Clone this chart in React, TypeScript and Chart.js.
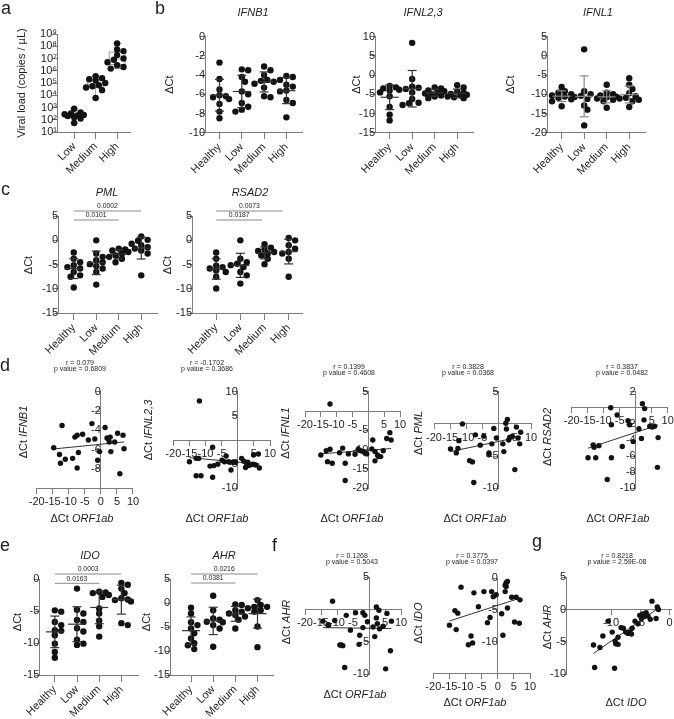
import React, { useEffect, useRef } from 'react';
import { Chart, registerables } from 'chart.js';

Chart.register(...registerables);

const W = 674;
const H = 719;
const FONT = '"Liberation Sans", Arial, Helvetica, sans-serif';
const AXIS_COLOR = '#7c7c7c';
const TEXT_COLOR = '#1e1e1e';
const DOT_COLOR = '#121212';

// ---------------- data ----------------
const groupLabels = ['Healthy', 'Low', 'Medium', 'High'];
const viralLabels = ['Low', 'Medium', 'High'];

const viralLoadLow = [790, 400, 320, 280, 250, 220, 200, 160, 125, 55];
const viralLoadMedium = [360000, 250000, 200000, 160000, 100000, 65000, 55000, 43000, 26000, 6000];
const viralLoadHigh = [170000000, 55000000, 40000000, 19000000, 10000000, 8000000, 5000000, 2800000, 2000000, 1500000];

const ifnb1ByGroup = [
  [-2.7, -4.4, -5.5, -6.1, -6.2, -6.3, -6.5, -7.0, -7.8, -8.5],
  [-3.4, -3.5, -4.2, -4.7, -5.7, -6.0, -6.9, -7.3, -7.6, -7.8],
  [-3.1, -3.5, -4.0, -4.5, -4.6, -4.7, -4.9, -5.3, -6.2, -6.3],
  [-4.1, -4.2, -4.5, -5.0, -5.2, -5.6, -5.7, -6.6, -6.9, -8.4],
];
const ifnl23ByGroup = [
  [-2.8, -3.2, -3.5, -3.8, -4.0, -4.5, -5.5, -8.3, -10.3, -11.8],
  [8.4, -1.0, -3.0, -3.3, -3.6, -4.5, -6.2, -7.2, -7.3, -7.8],
  [-3.2, -3.5, -4.0, -4.2, -4.5, -4.8, -5.0, -5.3, -5.6, -6.0],
  [-2.6, -3.2, -4.3, -4.6, -4.9, -5.1, -5.3, -5.6, -5.8, -6.0],
];
const ifnl1ByGroup = [
  [-8.1, -9.2, -9.6, -10.0, -10.3, -10.6, -10.9, -11.3, -11.8, -13.1],
  [1.7, -9.2, -10.0, -10.4, -10.7, -11.2, -12.9, -14.0, -18.1],
  [-7.5, -9.6, -10.0, -10.3, -10.6, -10.8, -11.1, -11.4, -11.8, -13.5],
  [-5.8, -7.5, -8.6, -9.7, -10.5, -10.9, -11.1, -11.4, -11.8, -13.3],
];
const pmlByGroup = [
  [-2.5, -3.8, -4.5, -5.1, -5.5, -5.8, -6.5, -7.2, -7.5, -9.7],
  [0.0, -2.7, -3.4, -4.1, -4.5, -4.9, -5.3, -5.8, -6.5, -9.1],
  [-1.7, -1.9, -2.1, -2.4, -2.7, -3.1, -3.4, -3.8, -4.5],
  [0.8, 0.1, -0.1, -0.7, -1.0, -1.4, -1.7, -2.1, -2.7, -7.2],
];
const rsad2ByGroup = [
  [-2.5, -3.8, -5.2, -5.5, -5.8, -6.2, -6.5, -7.5, -9.9],
  [0.0, -3.8, -4.5, -4.8, -5.1, -5.5, -6.5, -7.2, -8.9],
  [-0.8, -1.5, -1.9, -2.2, -2.4, -2.7, -3.1, -3.8, -4.9],
  [0.5, 0.0, -1.0, -1.7, -2.4, -2.7, -3.8, -7.5],
];
const idoByGroup = [
  [-4.9, -5.1, -6.7, -7.2, -8.0, -8.1, -8.8, -10.1, -11.4, -12.3],
  [-1.5, -4.8, -5.4, -6.4, -6.7, -7.7, -8.2, -9.5, -10.1, -10.3],
  [-2.0, -2.1, -2.2, -2.5, -2.8, -4.6, -5.4, -6.5, -7.4, -9.0],
  [-0.6, -0.9, -1.5, -2.2, -3.0, -3.2, -3.3, -3.5, -6.9, -7.2],
];
const ahrByGroup = [
  [-1.0, -2.2, -4.0, -4.6, -5.3, -6.3, -7.4, -8.4, -8.8, -9.6],
  [1.5, -1.5, -3.2, -3.5, -3.9, -4.0, -4.6, -5.3, -9.1],
  [-0.3, -0.4, -1.5, -1.8, -2.2, -2.5, -2.8, -3.5, -5.3],
  [0.6, -0.4, -0.8, -0.8, -1.1, -1.5, -1.8, -4.9, -9.2],
];

const orfVsIfnb1X = [-12.1, -14.7, -12.9, -12.6, -11.1, -8.8, -8.1, -7.4, -7.0, -7.4, -5.7, -3.9, -2.8, -1.9, -1.0, -0.4, 1.3, 1.9, 2.3, 2.6, 3.1, 2.9, 4.3, 5.2, 5.9, 6.9, 7.2];
const orfVsIfnb1Y = [-3.5, -5.8, -6.5, -7.4, -7.0, -6.9, -4.7, -4.5, -6.3, -7.9, -4.4, -5.0, -3.3, -4.9, -7.1, -6.2, -3.7, -4.8, -4.9, -5.2, -6.2, -4.7, -5.2, -4.3, -8.5, -4.5, -5.9];

const orfVsIfnl23X = [-11.9, -15.0, -12.9, -12.1, -12.9, -11.4, -7.8, -8.6, -7.8, -7.4, -6.2, -4.9, -3.6, -4.1, -2.8, -2.1, -1.6, -0.7, 1.2, 1.9, 2.4, 2.8, 3.1, 3.4, 4.1, 4.7, 5.2, 4.9, 6.4, 5.7, 6.7];
const orfVsIfnl23Y = [8.1, -4.5, -3.8, -3.8, -7.4, -7.4, -1.5, -5.4, -7.7, -5.3, -5.0, -4.2, -3.3, -4.5, -4.5, -6.2, -4.6, -4.6, -3.8, -4.4, -5.7, -5.2, -4.6, -5.3, -5.1, -5.0, -5.1, -3.1, -2.9, -5.2, -5.8];

const orfVsIfnl1X = [-15.0, -13.3, -12.1, -12.1, -12.9, -11.4, -9.1, -8.1, -7.3, -7.3, -6.3, -4.2, -3.2, -2.4, -1.6, -1.0, -0.5, 1.4, 1.1, 2.1, 2.1, 2.9, 3.2, 3.9, 4.7, 5.8, 6.8, 7.2];
const orfVsIfnl1Y = [-11.4, -10.3, -9.9, 1.8, -13.1, -13.5, -10.8, -9.6, -13.5, -18.0, -11.1, -11.2, -9.9, -10.3, -10.5, -10.9, -11.1, -7.5, -9.8, -10.5, -12.9, -11.4, -11.8, -11.8, -10.3, -7.1, -5.6, -7.5];

const orfVsPmlX = [-11.2, -14.9, -13.1, -12.6, -12.3, -9.0, -8.1, -7.7, -7.2, -5.7, -4.6, -3.0, -3.0, -2.1, -1.5, -0.7, 1.3, 1.6, 2.2, 2.4, 2.7, 3.1, 3.4, 4.2, 5.0, 5.5, 6.0, 6.8, 6.5];
const orfVsPmlY = [0.0, -3.9, -4.5, -3.8, -2.6, -5.7, -5.9, -9.1, -1.7, -3.3, -1.9, -4.5, -4.8, -3.1, -0.7, -2.2, -3.1, -4.3, 0.1, -0.8, 0.7, -2.5, -2.1, -1.9, -7.1, -0.5, -2.2, -1.3, -3.1];

const orfVsRsad2X = [-14.9, -13.3, -13.0, -11.5, -12.5, -7.8, -7.6, -7.6, -8.9, -5.8, -4.2, -2.4, -1.9, -0.8, 1.0, 2.1, 2.8, 2.6, 1.8, 4.4, 5.2, 5.9, 7.0, 6.8];
const orfVsRsad2Y = [-6.2, -4.6, -4.9, -4.7, -6.2, 0.0, -2.1, -6.2, -8.9, -0.9, -4.8, -1.6, -2.1, -4.2, -2.6, 0.5, -0.1, -1.5, -3.8, -2.3, -2.4, -2.3, -3.7, -7.4];

const orfVsAhrX = [-14.4, -12.8, -12.6, -10.7, -9.1, -11.4, -7.1, -4.2, -1.9, -1.3, -0.5, -2.9, -3.1, -8.6, -8.2, -7.6, -5.8, -1.9, 1.25, 2.3, 3.1, 2.3, 2.6, 1.8, 3.3, 4.4, 5.6, 7.0, 5.2, 6.7];
const orfVsAhrY = [-1.8, -2.4, -2.4, -1.7, -5.5, 1.3, -0.9, -0.5, -0.5, -0.9, -1.9, -4.0, -5.4, -5.5, -5.6, -9.0, -3.2, -2.8, -2.7, 0.4, -0.1, -1.3, -2.2, -4.2, -3.0, -2.6, -0.6, -1.8, -9.2, -6.4];

const orfVsIdoX = [-15.0, -13.3, -12.4, -12.9, -11.4, -9.1, -8.3, -7.8, -7.4, -6.0, -4.3, -3.2, -2.4, -1.9, -1.4, -0.5, 1.2, 1.6, 2.3, 2.6, 3.0, 2.3, 2.6, 3.0, 4.3, 5.7, 6.9, 5.2, 6.7];
const orfVsIdoY = [-7.4, -5.1, -5.5, -8.1, -1.4, -10.5, -9.1, -10.2, -2.3, -4.5, -2.1, -7.0, -6.2, -2.1, -2.9, -2.6, -5.6, -9.0, -1.1, -0.7, -0.5, -2.1, -1.3, -4.7, -3.0, -3.0, -3.4, -6.9, -7.1];

const idoVsAhrX = [-13.0, -12.8, -11.9, -11.4, -10.5, -9.8, -9.3, -9.2, -9.4, -8.8, -8.3, -7.9, -7.5, -7.1, -6.8, -6.5, -6.4, -5.9, -5.4, -5.1, -4.8, -4.6, -4.3, -4.0, -3.7, -3.3, -3.0, -2.1, -1.9, -2.3, -8.8];
const idoVsAhrY = [-5.5, -9.0, -5.9, -4.1, -1.8, -3.5, -4.9, -5.3, -9.1, -4.3, -2.8, -2.9, -3.5, -3.7, -3.5, -3.8, -2.9, -1.8, -2.2, -0.9, -1.4, -0.7, -1.1, -0.5, -1.0, -1.5, 1.3, 0.4, 0.0, -1.4, -5.4];

const viralTicks = [1e1, 1e2, 1e3, 1e4, 1e5, 1e6, 1e7, 1e8, 1e9];
const ticksIfnb1 = [-10, -8, -6, -4, -2, 0];
const ticksIfnl23 = [-15, -10, -5, 0, 5, 10];
const ticksIfnl1 = [-20, -15, -10, -5, 0, 5];
const ticksPml = [-15, -10, -5, 0, 5];
const ticksIdo = [-15, -10, -5, 0];
const ticksAhr = [-15, -10, -5, 0, 5];
const ticksOrf = [-20, -15, -10, -5, 0, 5, 10];
const ticksCorrIfnb1 = [-10, -8, -6, -4, -2, 0];
const ticksCorrIfnl23 = [-10, -5, 0, 5, 10];
const ticksCorrIfnl1 = [-20, -15, -10, -5, 0, 5];
const ticksCorrPml = [-10, -5, 0, 5];
const ticksCorrRsad2 = [-10, -8, -6, -4, -2, 0, 2];
const ticksCorrAhr = [-10, -5, 0, 5];
const ticksCorrIdo = [-15, -10, -5, 0];
const ticksIdoAxis = [-10, -5, 0];

const statsIfnb1 = ['r = 0.079', 'p value = 0.6809'];
const statsIfnl23 = ['r = -0.1702', 'p value = 0.3686'];
const statsIfnl1 = ['r = 0.1399', 'p value = 0.4608'];
const statsPml = ['r = 0.3828', 'p value = 0.0368'];
const statsRsad2 = ['r = 0.3837', 'p value = 0.0482'];
const statsAhr = ['r = 0.1268', 'p value = 0.5043'];
const statsIdo = ['r = 0.3775', 'p value = 0.0397'];
const statsIdoAhr = ['r = 0.8218', 'p value = 2.59E-08'];

const pPml = ['0.0002', '0.0101'];
const pRsad2 = ['0.0073', '0.0187'];
const pIdo = ['0.0003', '0.0163'];
const pAhr = ['0.0216', '0.0381'];

// ---------------- helpers ----------------
type Seg = [string, boolean?];
interface Txt { segs: Seg[]; x: number; y: number; size: number; rot?: number; align?: string; base?: string; }
interface Area { L: number; T: number; R: number; B: number; }

const tx = (x: number, y: number, size: number, segs: Seg[], extra: any = {}): Txt => ({ x, y, size, segs, ...extra });
const letter = (ch: string, x: number, y: number): Txt => tx(x, y, 18, [[ch]], { align: 'left', base: 'alphabetic' });

const mean = (a: number[]) => a.reduce((s, v) => s + v, 0) / a.length;
const sd = (a: number[]) => {
  const m = mean(a);
  return Math.sqrt(a.reduce((s, v) => s + (v - m) * (v - m), 0) / (a.length - 1));
};
const quantile = (sorted: number[], q: number) => {
  const pos = (sorted.length - 1) * q;
  const lo = Math.floor(pos);
  const hi = Math.ceil(pos);
  return sorted[lo] + (sorted[hi] - sorted[lo]) * (pos - lo);
};

function drawText(ctx: CanvasRenderingContext2D, t: Txt) {
  ctx.save();
  ctx.translate(t.x, t.y);
  if (t.rot) ctx.rotate((t.rot * Math.PI) / 180);
  ctx.fillStyle = TEXT_COLOR;
  ctx.textBaseline = (t.base || 'middle') as CanvasTextBaseline;
  ctx.textAlign = 'left';
  const fonts = t.segs.map((s) => `${s[1] ? 'italic ' : ''}${t.size}px ${FONT}`);
  const widths = t.segs.map((s, i) => {
    ctx.font = fonts[i];
    return ctx.measureText(s[0]).width;
  });
  const total = widths.reduce((a, b) => a + b, 0);
  let cx = t.align === 'left' ? 0 : t.align === 'right' ? -total : -total / 2;
  t.segs.forEach((s, i) => {
    ctx.font = fonts[i];
    ctx.fillText(s[0], cx, 0);
    cx += widths[i];
  });
  ctx.restore();
}

function seg(ctx: CanvasRenderingContext2D, x1: number, y1: number, x2: number, y2: number) {
  ctx.beginPath();
  ctx.moveTo(x1, y1);
  ctx.lineTo(x2, y2);
  ctx.stroke();
}

interface Bracket { from: number; to: number; y: number; label: string; }
interface Decor { groups?: number[][]; mode?: 'sd' | 'box'; barColor?: string; brackets?: Bracket[]; texts: Txt[]; }

function decorPlugin(d: Decor) {
  return {
    id: 'decor',
    beforeDatasetsDraw(chart: any) {
      if (d.mode !== 'box' || !d.groups) return;
      const { ctx } = chart;
      const xs = chart.scales.x;
      const ys = chart.scales.y;
      ctx.save();
      ctx.strokeStyle = '#9a9a9a';
      ctx.lineWidth = 1;
      d.groups.forEach((g, i) => {
        const logs = g.map((v) => Math.log10(v)).sort((a, b) => a - b);
        const cx = xs.getPixelForValue(i + 1);
        const p1 = ys.getPixelForValue(10 ** quantile(logs, 0.25));
        const p2 = ys.getPixelForValue(10 ** quantile(logs, 0.5));
        const p3 = ys.getPixelForValue(10 ** quantile(logs, 0.75));
        const pl = ys.getPixelForValue(10 ** logs[0]);
        const ph = ys.getPixelForValue(10 ** logs[logs.length - 1]);
        ctx.strokeRect(cx - 8, p3, 16, p1 - p3);
        seg(ctx, cx - 8, p2, cx + 8, p2);
        seg(ctx, cx, p3, cx, ph);
        seg(ctx, cx, p1, cx, pl);
        seg(ctx, cx - 4, ph, cx + 4, ph);
        seg(ctx, cx - 4, pl, cx + 4, pl);
      });
      ctx.restore();
    },
    afterDatasetsDraw(chart: any) {
      const { ctx } = chart;
      const xs = chart.scales.x;
      const ys = chart.scales.y;
      if (d.mode === 'sd' && d.groups) {
        ctx.save();
        ctx.strokeStyle = d.barColor || '#333';
        ctx.lineWidth = 1.2;
        d.groups.forEach((g, i) => {
          const m = mean(g);
          const s = sd(g);
          const cx = xs.getPixelForValue(i + 1);
          const pm = ys.getPixelForValue(m);
          const pt = ys.getPixelForValue(m + s);
          const pb = ys.getPixelForValue(m - s);
          seg(ctx, cx - 9, pm, cx + 9, pm);
          seg(ctx, cx, pt, cx, pb);
          seg(ctx, cx - 4.5, pt, cx + 4.5, pt);
          seg(ctx, cx - 4.5, pb, cx + 4.5, pb);
        });
        ctx.restore();
      }
      (d.brackets || []).forEach((b) => {
        const x1 = xs.getPixelForValue(b.from);
        const x2 = xs.getPixelForValue(b.to);
        ctx.save();
        ctx.strokeStyle = '#8a8a8a';
        ctx.lineWidth = 1;
        seg(ctx, x1, b.y, x2, b.y);
        ctx.restore();
        drawText(ctx, tx((x1 + x2) / 2, b.y - 4.5, 6.8, [[b.label]]));
      });
    },
    afterDraw(chart: any) {
      d.texts.forEach((t) => drawText(chart.ctx, t));
    },
  };
}

function makeScale(o: any) {
  return {
    type: o.log ? 'logarithmic' : 'linear',
    min: o.min,
    max: o.max,
    position: o.pos,
    afterBuildTicks: (sc: any) => {
      sc.ticks = o.ticks.map((v: number) => ({ value: v }));
    },
    afterFit: (sc: any) => {
      sc.paddingLeft = 0;
      sc.paddingRight = 0;
      sc.paddingTop = 0;
      sc.paddingBottom = 0;
    },
    ticks: {
      autoSkip: false,
      includeBounds: false,
      minRotation: o.rot || 0,
      maxRotation: o.rot || 0,
      padding: 2,
      color: TEXT_COLOR,
      font: { family: FONT, size: 11 },
      callback: (v: number) => (o.hide && o.hide.includes(v) ? '' : o.labels ? o.labels(v) : String(v)),
    },
    grid: { display: true, drawOnChartArea: false, drawTicks: true, tickLength: o.tickLen, color: AXIS_COLOR, lineWidth: 1 },
    border: { display: true, color: AXIS_COLOR, width: 1 },
  };
}

function baseOptions(a: Area, scales: any) {
  return {
    responsive: false,
    animation: false,
    events: [],
    layout: { padding: { left: a.L, top: a.T, right: W - a.R, bottom: H - a.B } },
    plugins: { legend: { display: false }, tooltip: { enabled: false }, title: { display: false } },
    scales,
  };
}

// compact beeswarm: horizontal offsets (px) for dots of one group
function swarm(vals: number[], toPx: (v: number) => number, d: number): number[] {
  const order = vals.map((_, i) => i).sort((a, b) => vals[b] - vals[a]);
  const placed: { x: number; y: number }[] = [];
  const out = new Array(vals.length).fill(0);
  const step = d * 0.5;
  const cands = [0, 1, -1, 2, -2, 3, -3];
  const minD2 = (d * 0.8) ** 2;
  for (const i of order) {
    const y = toPx(vals[i]);
    let best = 0;
    let bestScore = -1;
    for (const c of cands) {
      const x = c * step;
      const score = placed.length ? Math.min(...placed.map((p) => (p.x - x) ** 2 + (p.y - y) ** 2)) : Infinity;
      if (score >= minD2) { best = x; bestScore = score; break; }
      if (score > bestScore) { bestScore = score; best = x; }
    }
    out[i] = best;
    placed.push({ x: best, y });
  }
  return out;
}

interface DotSpec {
  area: Area; cats: string[]; groups: number[][]; xMin: number; xMax: number; yMin: number; yMax: number;
  yTicks: number[]; log?: boolean; yLabels?: (v: number) => string; brackets?: Bracket[]; texts: Txt[]; barColor?: string;
}

function dotConfig(s: DotSpec) {
  const { L, T, R, B } = s.area;
  const pxX = (R - L) / (s.xMax - s.xMin);
  const toPx = s.log
    ? (v: number) => (Math.log10(v) * (B - T)) / (Math.log10(s.yMax) - Math.log10(s.yMin))
    : (v: number) => (v * (B - T)) / (s.yMax - s.yMin);
  const radius = 3.2;
  const pts: { x: number; y: number }[] = [];
  s.groups.forEach((g, gi) => {
    const offs = swarm(g, toPx, radius * 2);
    g.forEach((v, k) => pts.push({ x: gi + 1 + offs[k] / pxX, y: v }));
  });
  return {
    type: 'scatter',
    data: {
      datasets: [{ data: pts, pointRadius: radius, pointHoverRadius: radius, pointBackgroundColor: DOT_COLOR, pointBorderWidth: 0, clip: false }],
    },
    options: baseOptions(s.area, {
      x: makeScale({ min: s.xMin, max: s.xMax, ticks: s.groups.map((_, i) => i + 1), pos: { y: s.yMin }, labels: (v: number) => s.cats[v - 1], rot: 45, tickLen: 6 }),
      y: makeScale({ min: s.yMin, max: s.yMax, ticks: s.yTicks, pos: { x: s.xMin }, labels: s.yLabels, tickLen: 5, log: s.log }),
    }),
    plugins: [decorPlugin({ groups: s.groups, mode: s.log ? 'box' : 'sd', brackets: s.brackets, texts: s.texts, barColor: s.barColor })],
  };
}

interface ScatSpec {
  area: Area; x: number[]; y: number[]; xMin: number; xMax: number; yMin: number; yMax: number; xTicks: number[]; yTicks: number[];
  xAxisAt: number; yAxisAt: number; hideX: number[]; hideY: number[]; texts: Txt[];
}

function scatterConfig(s: ScatSpec) {
  const mx = mean(s.x);
  const my = mean(s.y);
  let sxy = 0;
  let sxx = 0;
  s.x.forEach((xv, i) => {
    sxy += (xv - mx) * (s.y[i] - my);
    sxx += (xv - mx) * (xv - mx);
  });
  const b = sxy / sxx;
  const a = my - b * mx;
  const x0 = Math.min(...s.x);
  const x1 = Math.max(...s.x);
  return {
    type: 'scatter',
    data: {
      datasets: [
        { data: s.x.map((xv, i) => ({ x: xv, y: s.y[i] })), pointRadius: 2.7, pointHoverRadius: 2.7, pointBackgroundColor: DOT_COLOR, pointBorderWidth: 0, clip: false },
        { data: [{ x: x0, y: a + b * x0 }, { x: x1, y: a + b * x1 }], showLine: true, pointRadius: 0, borderColor: '#333', borderWidth: 1, clip: false },
      ],
    },
    options: baseOptions(s.area, {
      x: makeScale({ min: s.xMin, max: s.xMax, ticks: s.xTicks, pos: { y: s.xAxisAt }, hide: s.hideX, tickLen: 5 }),
      y: makeScale({ min: s.yMin, max: s.yMax, ticks: s.yTicks, pos: { x: s.yAxisAt }, hide: s.hideY, tickLen: 5 }),
    }),
    plugins: [decorPlugin({ texts: s.texts })],
  };
}

const SUP = ['⁰', '¹', '²', '³', '⁴', '⁵', '⁶', '⁷', '⁸', '⁹'];
const powLabel = (v: number) => '10' + SUP[Math.round(Math.log10(v))];
const dct = (gene: string): Seg[] => [['ΔCt '], [gene, true]];
const statTexts = (st: string[], x: number, y: number): Txt[] => [tx(x, y, 7, [[st[0]]]), tx(x, y + 6.3, 7, [[st[1]]])];

// ---------------- panels ----------------
const configs: (() => any)[] = [
  // a
  () => dotConfig({
    area: { L: 57, T: 34, R: 130, B: 132 }, cats: viralLabels, groups: [viralLoadLow, viralLoadMedium, viralLoadHigh],
    xMin: 0.2, xMax: 3.6, yMin: 1e1, yMax: 1e9, yTicks: viralTicks, log: true, yLabels: powLabel,
    texts: [letter('a', 1, 14), tx(22, 83, 11, [['Viral load (copies / µL)']], { rot: -90 })],
  }),
  // b
  () => dotConfig({
    area: { L: 205, T: 36.7, R: 302, B: 132.7 }, cats: groupLabels, groups: ifnb1ByGroup,
    xMin: 0.35, xMax: 4.7, yMin: -10, yMax: 0, yTicks: ticksIfnb1,
    texts: [letter('b', 155, 14), tx(253, 13, 11, [['IFNB1', true]]), tx(170, 84.7, 11, [['ΔCt']], { rot: -90 })],
  }),
  () => dotConfig({
    area: { L: 375, T: 36.7, R: 473, B: 132.7 }, cats: groupLabels, groups: ifnl23ByGroup,
    xMin: 0.35, xMax: 4.7, yMin: -15, yMax: 10, yTicks: ticksIfnl23,
    texts: [tx(423, 13, 11, [['IFNL2,3', true]]), tx(357, 84.7, 11, [['ΔCt']], { rot: -90 })],
  }),
  () => dotConfig({
    area: { L: 547, T: 36.7, R: 645, B: 132.7 }, cats: groupLabels, groups: ifnl1ByGroup,
    xMin: 0.35, xMax: 4.7, yMin: -20, yMax: 5, yTicks: ticksIfnl1, barColor: '#888',
    texts: [tx(598, 13, 11, [['IFNL1', true]]), tx(511, 84.7, 11, [['ΔCt']], { rot: -90 })],
  }),
  // c
  () => dotConfig({
    area: { L: 58, T: 216, R: 157, B: 313.3 }, cats: groupLabels, groups: pmlByGroup,
    xMin: 0.3, xMax: 4.7, yMin: -15, yMax: 5, yTicks: ticksPml,
    brackets: [{ from: 1, to: 4, y: 211, label: pPml[0] }, { from: 1, to: 3, y: 220, label: pPml[1] }],
    texts: [letter('c', 1, 195), tx(107, 193, 11, [['PML', true]]), tx(29, 265, 11, [['ΔCt']], { rot: -90 })],
  }),
  () => dotConfig({
    area: { L: 192, T: 216, R: 302, B: 313.3 }, cats: groupLabels, groups: rsad2ByGroup,
    xMin: 0, xMax: 4.55, yMin: -15, yMax: 5, yTicks: ticksPml,
    brackets: [{ from: 1, to: 3.75, y: 211, label: pRsad2[0] }, { from: 1, to: 2.9, y: 220, label: pRsad2[1] }],
    texts: [tx(250, 193, 11, [['RSAD2', true]]), tx(168, 265, 11, [['ΔCt']], { rot: -90 })],
  }),
  // d
  () => scatterConfig({
    area: { L: 36.7, T: 391.7, R: 133, B: 488.3 }, x: orfVsIfnb1X, y: orfVsIfnb1Y,
    xMin: -20, xMax: 10, yMin: -10, yMax: 0, xTicks: ticksOrf, yTicks: ticksCorrIfnb1, xAxisAt: -10, yAxisAt: 0, hideX: [], hideY: [-10],
    texts: [letter('d', 0, 371), ...statTexts(statsIfnb1, 80, 363), tx(82, 519, 11, dct('ORF1ab')), tx(24, 432, 11, dct('IFNB1'), { rot: -90 })],
  }),
  () => scatterConfig({
    area: { L: 173.3, T: 391.7, R: 270, B: 488.3 }, x: orfVsIfnl23X, y: orfVsIfnl23Y,
    xMin: -20, xMax: 10, yMin: -10, yMax: 10, xTicks: ticksOrf, yTicks: ticksCorrIfnl23, xAxisAt: 0, yAxisAt: 0, hideX: [0], hideY: [0],
    texts: [...statTexts(statsIfnl23, 207, 363), tx(217, 519, 11, dct('ORF1ab')), tx(149, 430, 11, dct('IFNL2,3'), { rot: -90 })],
  }),
  () => scatterConfig({
    area: { L: 305, T: 391.7, R: 400, B: 488.3 }, x: orfVsIfnl1X, y: orfVsIfnl1Y,
    xMin: -20, xMax: 10, yMin: -20, yMax: 5, xTicks: ticksOrf, yTicks: ticksCorrIfnl1, xAxisAt: 0, yAxisAt: 0, hideX: [0], hideY: [0],
    texts: [...statTexts(statsIfnl1, 349, 367), tx(352, 519, 11, dct('ORF1ab')), tx(286, 433, 11, dct('IFNL1'), { rot: -90 })],
  }),
  () => scatterConfig({
    area: { L: 434, T: 391.7, R: 531, B: 488.3 }, x: orfVsPmlX, y: orfVsPmlY,
    xMin: -20, xMax: 10, yMin: -10, yMax: 5, xTicks: ticksOrf, yTicks: ticksCorrPml, xAxisAt: 0, yAxisAt: 0, hideX: [0], hideY: [0],
    texts: [...statTexts(statsPml, 468, 367), tx(475, 519, 11, dct('ORF1ab')), tx(419, 433, 11, dct('PML'), { rot: -90 })],
  }),
  () => scatterConfig({
    area: { L: 571.7, T: 391.7, R: 667.7, B: 488.3 }, x: orfVsRsad2X, y: orfVsRsad2Y,
    xMin: -20, xMax: 10, yMin: -10, yMax: 2, xTicks: ticksOrf, yTicks: ticksCorrRsad2, xAxisAt: 0, yAxisAt: 0, hideX: [0], hideY: [0],
    texts: [...statTexts(statsRsad2, 622, 367), tx(618, 519, 11, dct('ORF1ab')), tx(548, 437, 11, dct('RSAD2'), { rot: -90 })],
  }),
  // e
  () => dotConfig({
    area: { L: 39.3, T: 579, R: 138, B: 675 }, cats: groupLabels, groups: idoByGroup,
    xMin: 0.3, xMax: 4.75, yMin: -15, yMax: 0, yTicks: ticksIdo,
    brackets: [{ from: 1, to: 4, y: 574, label: pIdo[0] }, { from: 1, to: 3, y: 583.3, label: pIdo[1] }],
    texts: [letter('e', 0, 551), tx(90, 556, 11, [['IDO', true]]), tx(18, 622, 11, [['ΔCt']], { rot: -90 })],
  }),
  () => dotConfig({
    area: { L: 170, T: 579, R: 273, B: 675 }, cats: groupLabels, groups: ahrByGroup,
    xMin: 0.05, xMax: 4.7, yMin: -15, yMax: 5, yTicks: ticksAhr,
    brackets: [{ from: 1, to: 4, y: 574, label: pAhr[0] }, { from: 1, to: 3, y: 583, label: pAhr[1] }],
    texts: [tx(224, 556, 11, [['AHR', true]]), tx(147, 622, 11, [['ΔCt']], { rot: -90 })],
  }),
  // f
  () => scatterConfig({
    area: { L: 305, T: 577.3, R: 401, B: 674 }, x: orfVsAhrX, y: orfVsAhrY,
    xMin: -20, xMax: 10, yMin: -10, yMax: 5, xTicks: ticksOrf, yTicks: ticksCorrAhr, xAxisAt: 0, yAxisAt: 0, hideX: [0], hideY: [0],
    texts: [letter('f', 272, 551), ...statTexts(statsAhr, 352, 556), tx(355, 695, 11, dct('ORF1ab')), tx(287, 622, 11, dct('AHR'), { rot: -90 })],
  }),
  () => scatterConfig({
    area: { L: 433.3, T: 578.3, R: 530, B: 673.3 }, x: orfVsIdoX, y: orfVsIdoY,
    xMin: -20, xMax: 10, yMin: -15, yMax: 0, xTicks: ticksOrf, yTicks: ticksCorrIdo, xAxisAt: -15, yAxisAt: 0, hideX: [], hideY: [-15],
    texts: [...statTexts(statsIdo, 472, 556), tx(475, 703, 11, dct('ORF1ab')), tx(419, 623, 11, dct('IDO'), { rot: -90 })],
  }),
  // g
  () => scatterConfig({
    area: { L: 566, T: 577.3, R: 673.8, B: 674 }, x: idoVsAhrX, y: idoVsAhrY,
    xMin: -17.7, xMax: 0.3, yMin: -10, yMax: 5, xTicks: ticksIdoAxis, yTicks: ticksCorrAhr, xAxisAt: 0, yAxisAt: -17.7, hideX: [], hideY: [],
    texts: [letter('g', 532, 547), ...statTexts(statsIdoAhr, 617, 556), tx(626, 703, 11, dct('IDO')), tx(548, 627, 11, dct('AHR'), { rot: -90 })],
  }),
];

function ChartLayer({ make }: { make: () => any }) {
  const ref = useRef<HTMLCanvasElement>(null);
  useEffect(() => {
    const chart = new Chart(ref.current as HTMLCanvasElement, make());
    return () => chart.destroy();
  }, [make]);
  return (
    <canvas
      ref={ref}
      width={W}
      height={H}
      style={{ position: 'absolute', left: 0, top: 0, width: W, height: H }}
    />
  );
}

export default function App() {
  return (
    <div style={{ position: 'absolute', left: 0, top: 0, width: W, height: H, background: '#ffffff', overflow: 'hidden' }}>
      {configs.map((c, i) => (
        <ChartLayer key={i} make={c} />
      ))}
    </div>
  );
}
